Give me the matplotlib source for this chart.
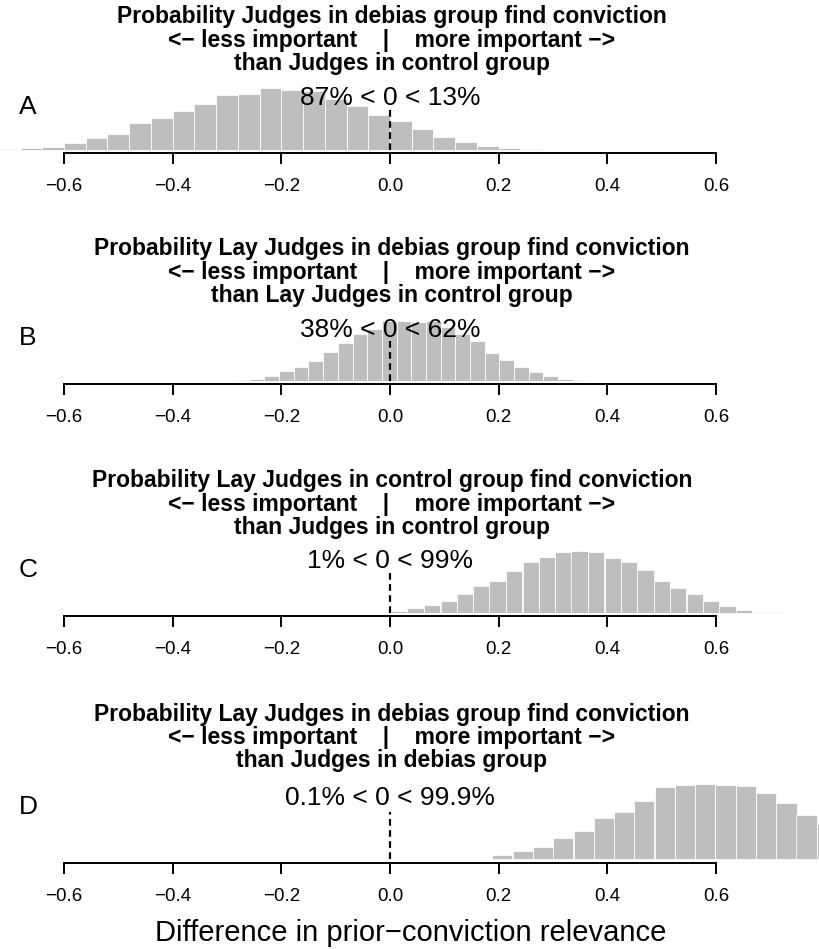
import matplotlib
matplotlib.use("Agg")
import matplotlib.pyplot as plt

plt.rcParams["font.family"] = ["Liberation Sans", "DejaVu Sans"]

# ---- data (bar heights in arbitrary units) ----
edges_a = [-0.72, -0.68, -0.64, -0.60, -0.56, -0.52, -0.48, -0.44, -0.40, -0.36,
           -0.32, -0.28, -0.24, -0.20, -0.16, -0.12, -0.08, -0.04, 0.00, 0.04,
           0.08, 0.12, 0.16, 0.20, 0.24]
heights_a = [3, 5, 9, 20, 35, 48, 80, 97, 117, 139, 164, 168, 185, 181, 177,
             152, 133, 105, 87, 63, 40, 25, 12, 6, 3]
width_a = 0.04

edges_b = [-0.285, -0.258, -0.231, -0.204, -0.177, -0.150, -0.123, -0.096,
           -0.069, -0.042, -0.015, 0.012, 0.039, 0.066, 0.093, 0.120, 0.147,
           0.174, 0.201, 0.228, 0.255, 0.282, 0.309, 0.336]
heights_b = [4, 8, 17, 31, 42, 62, 88, 116, 142, 156, 182, 182, 179, 180, 164,
             141, 120, 84, 64, 44, 29, 17, 7, 4]
width_b = 0.027

edges_c = [0.002, 0.032, 0.062, 0.093, 0.123, 0.153, 0.183, 0.213, 0.244,
           0.274, 0.304, 0.334, 0.364, 0.395, 0.425, 0.455, 0.485, 0.515,
           0.546, 0.576, 0.606, 0.636, 0.666, 0.697]
heights_c = [5, 15, 22, 35, 56, 80, 96, 124, 152, 166, 183, 184, 181, 163, 151,
             128, 96, 75, 56, 34, 21, 9, 3, 1]
width_c = 0.0302

edges_d = [0.151, 0.188, 0.226, 0.263, 0.300, 0.338, 0.375, 0.412, 0.449,
           0.487, 0.524, 0.561, 0.599, 0.636, 0.673, 0.711, 0.748, 0.785]
heights_d = [2, 12, 25, 38, 63, 86, 123, 141, 176, 218, 224, 227, 223, 221,
             198, 168, 133, 106]
width_d = 0.0373

letters = ["A", "B", "C", "D"]
first_lines = [
    "Probability Judges in debias group find conviction",
    "Probability Lay Judges in debias group find conviction",
    "Probability Lay Judges in control group find conviction",
    "Probability Lay Judges in debias group find conviction",
]
third_lines = [
    "than Judges in control group",
    "than Lay Judges in control group",
    "than Judges in control group",
    "than Judges in debias group",
]
pct_labels = ["87% < 0 < 13%", "38% < 0 < 62%", "1% < 0 < 99%", "0.1% < 0 < 99.9%"]
middle_line = "<\u2212 less important    |    more important \u2212>"

tick_vals = [-0.6, -0.4, -0.2, 0.0, 0.2, 0.4, 0.6]
tick_labels = ["\u22120.6", "\u22120.4", "\u22120.2", "0.0", "0.2", "0.4", "0.6"]
xlabel = "Difference in prior\u2212conviction relevance"

# ---- layout (pixel rows in the 819x949 image) ----
W, H = 819, 949
xlim = (-0.7178, 0.7896)
title_rows = [[17, 40.3, 63.6], [249, 272.3, 295.6], [481, 504.3, 527.6], [714, 737.3, 760.6]]
pct_rows = [98, 330, 561, 798]
letter_rows = [107, 338, 570, 807]
axis_rows = [152.7, 384, 616, 862.7]
base_rows = [150, 381.3, 612.7, 859.3]
peak_rows = [88.3, 320.7, 551.3, 783.7]
dash_rows = [107, 338, 570, 812]

panels = [
    (edges_a, heights_a, width_a),
    (edges_b, heights_b, width_b),
    (edges_c, heights_c, width_c),
    (edges_d, heights_d, width_d),
]


def data_to_figx(x):
    px = 64 + (x + 0.6) * (652 / 1.2)
    return px / W


fig = plt.figure(figsize=(W / 100, H / 100), dpi=100)

for i, (edges, heights, width) in enumerate(panels):
    axis_y, base_y, peak_y = axis_rows[i], base_rows[i], peak_rows[i]
    ax = fig.add_axes([0, 1 - axis_y / H, 1, (axis_y - peak_y) / H])

    hmax = max(heights)
    ppu = (base_y - peak_y) / hmax
    ax.set_ylim(-(axis_y - base_y) / ppu, hmax)
    ax.set_xlim(*xlim)

    ax.bar(edges, heights, width=width, align="edge",
           color="#BEBEBE", edgecolor="white", linewidth=0.55)

    # dashed reference line at zero
    ax.plot([0, 0], [0, (base_y - dash_rows[i]) / ppu], color="black",
            linewidth=1.6, linestyle=(0, (3, 2)), solid_capstyle="butt")

    for side in ["left", "right", "top"]:
        ax.spines[side].set_visible(False)
    ax.spines["bottom"].set_bounds(-0.6, 0.6)
    ax.spines["bottom"].set_linewidth(1.4)
    ax.set_yticks([])
    ax.set_xticks(tick_vals)
    ax.set_xticklabels(tick_labels)
    ax.tick_params(axis="x", length=8, width=1.4, labelsize=13.5, pad=10)

    # titles, centred over zero
    cx = data_to_figx(0.0)
    lines = [first_lines[i], middle_line, third_lines[i]]
    for row, txt in zip(title_rows[i], lines):
        fig.text(cx + 2 / W, 1 - row / H, txt, ha="center", va="center",
                 fontsize=16.5, fontweight="bold")

    fig.text(cx, 1 - pct_rows[i] / H, pct_labels[i], ha="center",
             va="center", fontsize=19)
    fig.text(28 / W, 1 - letter_rows[i] / H, letters[i], ha="center",
             va="center", fontsize=19)

fig.text(411 / W, 1 - 933 / H, xlabel, ha="center", va="center", fontsize=21)

fig.savefig("out.png", dpi=100)
